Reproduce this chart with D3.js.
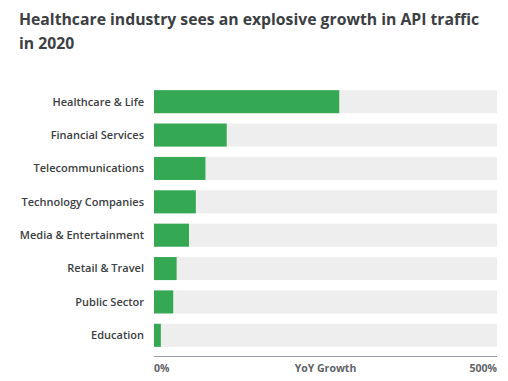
<!DOCTYPE html>
<html>
<head>
<meta charset="utf-8">
<script src="https://cdn.jsdelivr.net/npm/d3@7"></script>
<style>
  body { margin: 0; background: #fff; }
  text { font-family: "Open Sans", Roboto, sans-serif; }
</style>
</head>
<body>
<div id="chart"></div>
<script>
var width = 508;
var height = 381;

// values (YoY growth in %)
var industries = ["Healthcare & Life", "Financial Services", "Telecommunications", "Technology Companies",
                  "Media & Entertainment", "Retail & Travel", "Public Sector", "Education"];
var growth = [270, 106, 75, 61, 51, 33, 28, 10];
var axisMax = 500;
var tickLabels = ["0%", "500%"];

var svg = d3.select("#chart")
    .append("svg")
    .attr("width", width)
    .attr("height", height);

// title, shrunk until the first line fits the width seen in the reference
var title = svg.append("text")
    .attr("x", 19)
    .attr("y", 25)
    .style("font-size", "17px")
    .style("font-weight", 700)
    .style("fill", "#3c4043");
var line1 = title.append("tspan").attr("x", 19).text("Healthcare industry sees an explosive growth in API traffic");
title.append("tspan").attr("x", 19).attr("dy", 24).text("in 2020");
var fs = 17;
while (line1.node().getComputedTextLength() > 463 && fs > 10) {
    fs -= 0.25;
    title.style("font-size", fs + "px");
}

var x = d3.scaleLinear().domain([0, axisMax]).range([154, 497]);
var y = d3.scaleBand().domain(industries).range([85, 352]).paddingInner(0.31).paddingOuter(0.155);

var data = industries.map(function(d, i) { return {name: d, value: growth[i]}; });

// grey track
svg.selectAll("rect.track")
    .data(data)
    .enter()
    .append("rect")
    .attr("class", "track")
    .attr("x", x(0))
    .attr("y", d => y(d.name))
    .attr("width", x(axisMax) - x(0))
    .attr("height", y.bandwidth())
    .style("fill", "#eeeeee");

// green bars
svg.selectAll("rect.bar")
    .data(data)
    .enter()
    .append("rect")
    .attr("class", "bar")
    .attr("x", x(0))
    .attr("y", d => y(d.name))
    .attr("width", d => x(d.value) - x(0))
    .attr("height", y.bandwidth())
    .style("fill", "#34a853");

// category labels
svg.selectAll("text.label")
    .data(data)
    .enter()
    .append("text")
    .attr("class", "label")
    .attr("x", 144)
    .attr("y", d => y(d.name) + y.bandwidth() / 2)
    .attr("dy", "0.35em")
    .attr("text-anchor", "end")
    .style("font-size", "11px")
    .style("font-weight", 600)
    .style("fill", "#3c4043")
    .text(d => d.name);

// axis line
svg.append("line")
    .attr("x1", x(0))
    .attr("x2", x(axisMax))
    .attr("y1", 356.5)
    .attr("y2", 356.5)
    .style("stroke", "#9aa0a6")
    .style("stroke-width", 1);

svg.append("text")
    .attr("x", x(0))
    .attr("y", 372)
    .style("font-size", "10.5px")
    .style("font-weight", 700)
    .style("fill", "#5f6368")
    .text(tickLabels[0]);

svg.append("text")
    .attr("x", x(axisMax))
    .attr("y", 372)
    .attr("text-anchor", "end")
    .style("font-size", "10.5px")
    .style("font-weight", 700)
    .style("fill", "#5f6368")
    .text(tickLabels[1]);

svg.append("text")
    .attr("x", (x(0) + x(axisMax)) / 2)
    .attr("y", 372)
    .attr("text-anchor", "middle")
    .style("font-size", "10.5px")
    .style("font-weight", 700)
    .style("fill", "#5f6368")
    .text("YoY Growth");
</script>
</body>
</html>
